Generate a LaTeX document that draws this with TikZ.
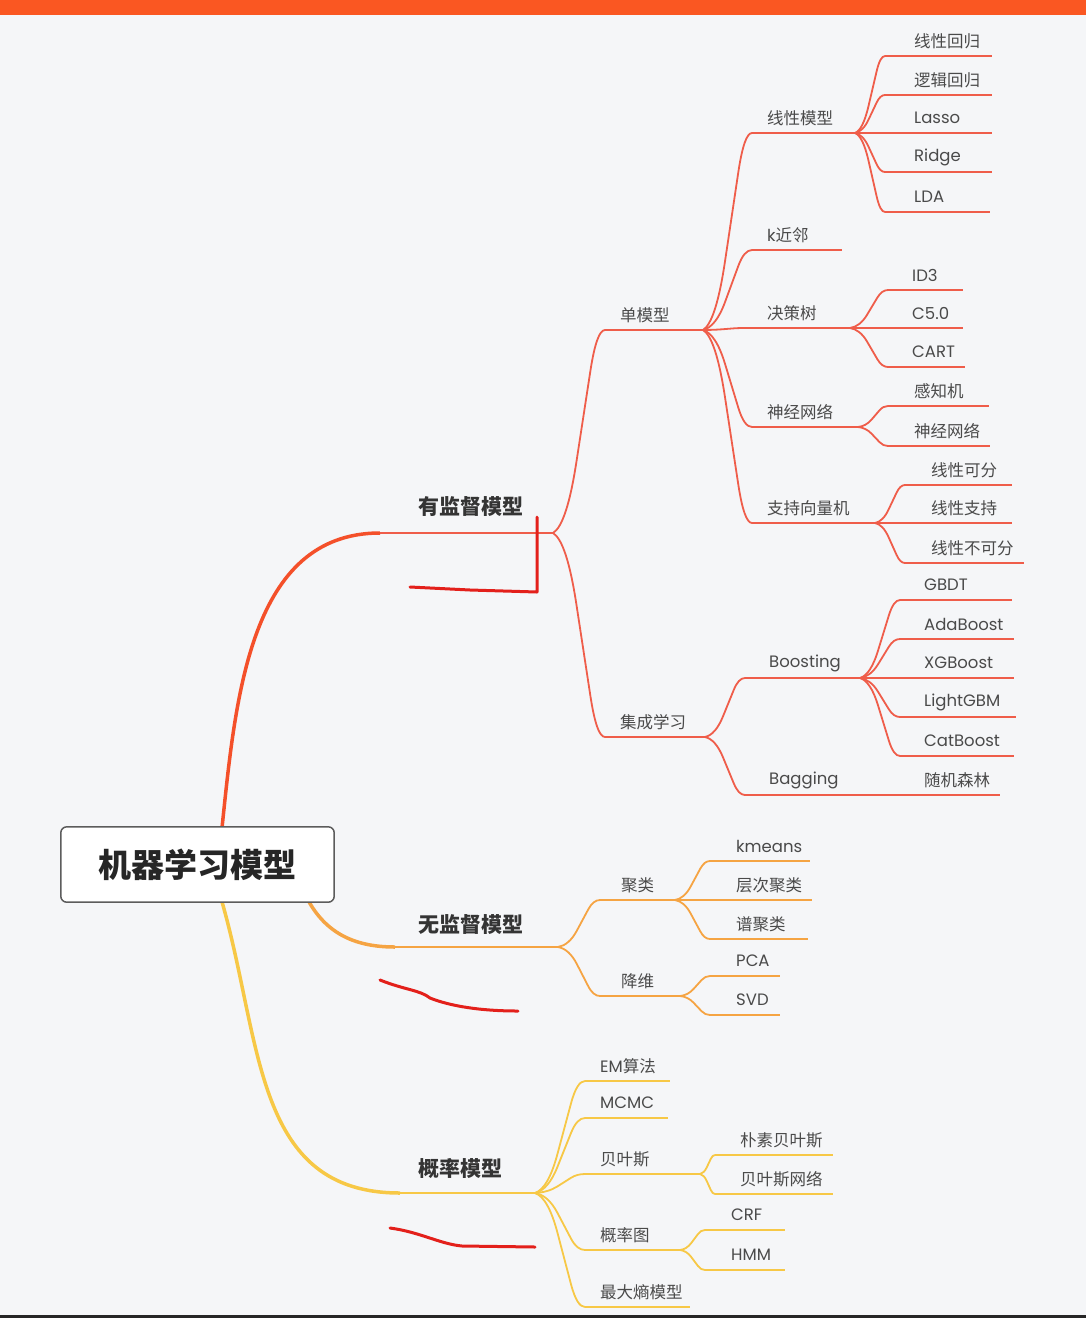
\documentclass[tikz,border=0pt]{standalone}
\usepackage{fontspec}
\setmainfont{Noto Sans CJK SC}
\newfontfamily\lat{Poppins}
\usetikzlibrary{calc}

\definecolor{bg}{HTML}{F5F6F8}
\definecolor{topbar}{HTML}{FA5722}
\definecolor{supc}{HTML}{EF5D4A}
\definecolor{supm}{HTML}{F4502A}
\definecolor{unsc}{HTML}{F5A443}
\definecolor{proc}{HTML}{F7C846}
\definecolor{ink}{HTML}{4A4A4A}
\definecolor{penred}{HTML}{E3201B}

\tikzset{
  lbl/.style={anchor=west, inner sep=0pt, text=ink, font=\fontsize{16.5}{19}\selectfont},
  big/.style={anchor=west, inner sep=0pt, text=ink!70!black, font=\fontsize{21}{24}\selectfont\bfseries},
  sup/.style={supc, line width=1.8pt, line join=round},
  uns/.style={unsc, line width=1.8pt, line join=round},
  pro/.style={proc, line width=1.8pt, line join=round},
  link/.style={to path={let \p1=(\tikztostart), \p2=(\tikztotarget) in
    .. controls ({0.824*\x1+0.176*\x2},{0.973*\y1+0.027*\y2})
       and ({0.674*\x1+0.326*\x2},{0.857*\y1+0.143*\y2}) .. ({0.55*\x1+0.45*\x2},{0.65*\y1+0.35*\y2})
    -- ({0.28*\x1+0.72*\x2},{0.2*\y1+0.8*\y2})
    .. controls ({0.2*\x1+0.8*\x2},{0.067*\y1+0.933*\y2})
       and ({0.107*\x1+0.893*\x2},\y2) .. (\tikztotarget) \tikztonodes}},
  penmark/.style={penred, line width=3pt, line cap=round, line join=round},
}

% underlined topic: style, name, x start, x end, y, text x, text
\newcommand\topic[7]{%
  \coordinate (#2) at (#3,#5);
  \coordinate (#2-e) at (#4,#5);
  \draw[#1] (#2) -- (#2-e);
  \node[lbl] (#2-t) at (#6,#5-15) {#7};
}

\begin{document}
\begin{tikzpicture}[x=1pt, y=-1pt]
\fill[bg] (0,0) rectangle (1086,1318);
\useasboundingbox (0,0) rectangle (1086,1318);
\fill[topbar] (0,0) rectangle (1086,15);
\fill[black!85] (0,1315) rectangle (1086,1318);

% root
\node[minimum width=273pt, minimum height=75pt, inner sep=0pt]
      (root) at (197.5,864.5) {};
\coordinate (r1) at ($(root.north west)!0.59!(root.north east)$);
\coordinate (r2) at ($(root.south east)+(-25,0)$);
\coordinate (r3) at ($(root.south west)!0.59!(root.south east)$);

% main branches
\coordinate (sv) at (380,533); \coordinate (sv-e) at (553,533);
\coordinate (us) at (395,947); \coordinate (us-e) at (558,947);
\coordinate (pm) at (400,1193); \coordinate (pm-e) at (535,1193);
\draw[supm, line width=3.5pt] (r1) to[out=84, in=180] (sv);
\draw[supc, line width=2pt] (sv) -- (sv-e);
\draw[unsc, line width=3.5pt] (r2) to[out=-60, in=180] (us);
\draw[unsc, line width=2pt] (us) -- (us-e);
\draw[proc, line width=3.5pt] (r3) to[out=-74, in=180, looseness=1.1] (pm);
\draw[proc, line width=2pt] (pm) -- (pm-e);
\node[big] (sv-t) at (418,507) {有监督模型};
\node[big] (us-t) at (418,924) {无监督模型};
\node[big] (pm-t) at (418,1168) {概率模型};

\fill[white, rounded corners=6pt] (root.north west) rectangle (root.south east);
\draw[draw=ink!90, line width=1.5pt, rounded corners=6pt] (root.north west) rectangle (root.south east);
\node[font=\fontsize{33}{36}\selectfont\bfseries, text=black!85] at (root) {机器学习模型};

% supervised
\topic{sup}{one}{605}{703}{330}{620}{单模型}
\topic{sup}{ens}{605}{705}{737}{620}{集成学习}
\topic{sup}{lin}{752}{855}{133}{767}{线性模型}
\topic{sup}{knn}{752}{842}{250}{767}{{\lat k}近邻}
\topic{sup}{tree}{745}{850}{328}{767}{决策树}
\topic{sup}{nn}{752}{858}{427}{767}{神经网络}
\topic{sup}{svm}{752}{875}{523}{767}{支持向量机}
\topic{sup}{lr}{885}{992}{56}{914}{线性回归}
\topic{sup}{lg}{885}{992}{95}{914}{逻辑回归}
\topic{sup}{la}{885}{992}{133}{914}{\lat Lasso}
\topic{sup}{ri}{885}{992}{172}{914}{\lat Ridge}
\topic{sup}{ld}{885}{990}{212}{914}{\lat LDA}
\topic{sup}{id}{888}{963}{290}{912}{\lat ID3}
\topic{sup}{c5}{888}{963}{328}{912}{\lat C5.0}
\topic{sup}{cart}{888}{965}{367}{912}{\lat CART}
\topic{sup}{per}{888}{989}{406}{914}{感知机}
\topic{sup}{nn2}{888}{990}{446}{914}{神经网络}
\topic{sup}{ls1}{905}{1012}{485}{931}{线性可分}
\topic{sup}{ls2}{905}{1012}{523}{931}{线性支持}
\topic{sup}{ls3}{905}{1024}{563}{931}{线性不可分}
\topic{sup}{boost}{745}{860}{678}{769}{\lat Boosting}
\topic{sup}{bag}{745}{905}{795}{769}{\lat Bagging}
\topic{sup}{gbdt}{900}{1012}{600}{924}{\lat GBDT}
\topic{sup}{ada}{900}{1014}{639}{924}{\lat AdaBoost}
\topic{sup}{xgb}{900}{1014}{678}{924}{\lat XGBoost}
\topic{sup}{lgb}{900}{1016}{717}{924}{\lat LightGBM}
\topic{sup}{cat}{900}{1014}{756}{924}{\lat CatBoost}
\topic{sup}{rf}{905}{1000}{795}{924}{随机森林}

\foreach \c in {one,ens} \draw[sup] (sv-e) to[link] (\c);
\foreach \c in {lin,knn,tree,nn,svm} \draw[sup] (one-e) to[link] (\c);
\foreach \c in {lr,lg,la,ri,ld} \draw[sup] (lin-e) to[link] (\c);
\foreach \c in {id,c5,cart} \draw[sup] (tree-e) to[link] (\c);
\foreach \c in {per,nn2} \draw[sup] (nn-e) to[link] (\c);
\foreach \c in {ls1,ls2,ls3} \draw[sup] (svm-e) to[link] (\c);
\foreach \c in {boost,bag} \draw[sup] (ens-e) to[link] (\c);
\foreach \c in {gbdt,ada,xgb,lgb,cat} \draw[sup] (boost-e) to[link] (\c);
\draw[sup] (bag-e) -- (rf);

% unsupervised
\topic{uns}{clu}{600}{675}{900}{621}{聚类}
\topic{uns}{dim}{600}{680}{996}{621}{降维}
\topic{uns}{km}{710}{810}{861}{736}{\lat kmeans}
\topic{uns}{hc}{710}{812}{900}{736}{层次聚类}
\topic{uns}{sc}{710}{808}{939}{736}{谱聚类}
\topic{uns}{pca}{710}{780}{976}{736}{\lat PCA}
\topic{uns}{svd}{710}{780}{1015}{736}{\lat SVD}
\foreach \c in {clu,dim} \draw[uns] (us-e) to[link] (\c);
\foreach \c in {km,hc,sc} \draw[uns] (clu-e) to[link] (\c);
\foreach \c in {pca,svd} \draw[uns] (dim-e) to[link] (\c);

% probabilistic
\topic{pro}{em}{585}{670}{1081}{600}{{\lat EM}算法}
\topic{pro}{mc}{585}{668}{1118}{600}{\lat MCMC}
\topic{pro}{bay}{585}{700}{1174}{600}{贝叶斯}
\topic{pro}{pg}{585}{680}{1250}{600}{概率图}
\topic{pro}{me}{585}{690}{1307}{600}{最大熵模型}
\topic{pro}{nb}{715}{833}{1155}{740}{朴素贝叶斯}
\topic{pro}{bn}{715}{833}{1194}{740}{贝叶斯网络}
\topic{pro}{crf}{705}{785}{1230}{731}{\lat CRF}
\topic{pro}{hmm}{705}{785}{1270}{731}{\lat HMM}
\foreach \c in {em,mc,bay,pg,me} \draw[pro] (pm-e) to[link] (\c);
\foreach \c in {nb,bn} \draw[pro] (bay-e) to[link] (\c);
\foreach \c in {crf,hmm} \draw[pro] (pg-e) to[link] (\c);

% pen marks
\draw[penmark] (410,587) -- (470,590) -- (537,592) -- (537,517);
\draw[penmark] (380,980) .. controls (405,990) and (420,990) .. (430,998)
  .. controls (450,1006) and (480,1011) .. (518,1011);
\draw[penmark] (390,1228) .. controls (420,1232) and (440,1244) .. (462,1246) -- (535,1247);
\end{tikzpicture}
\end{document}
